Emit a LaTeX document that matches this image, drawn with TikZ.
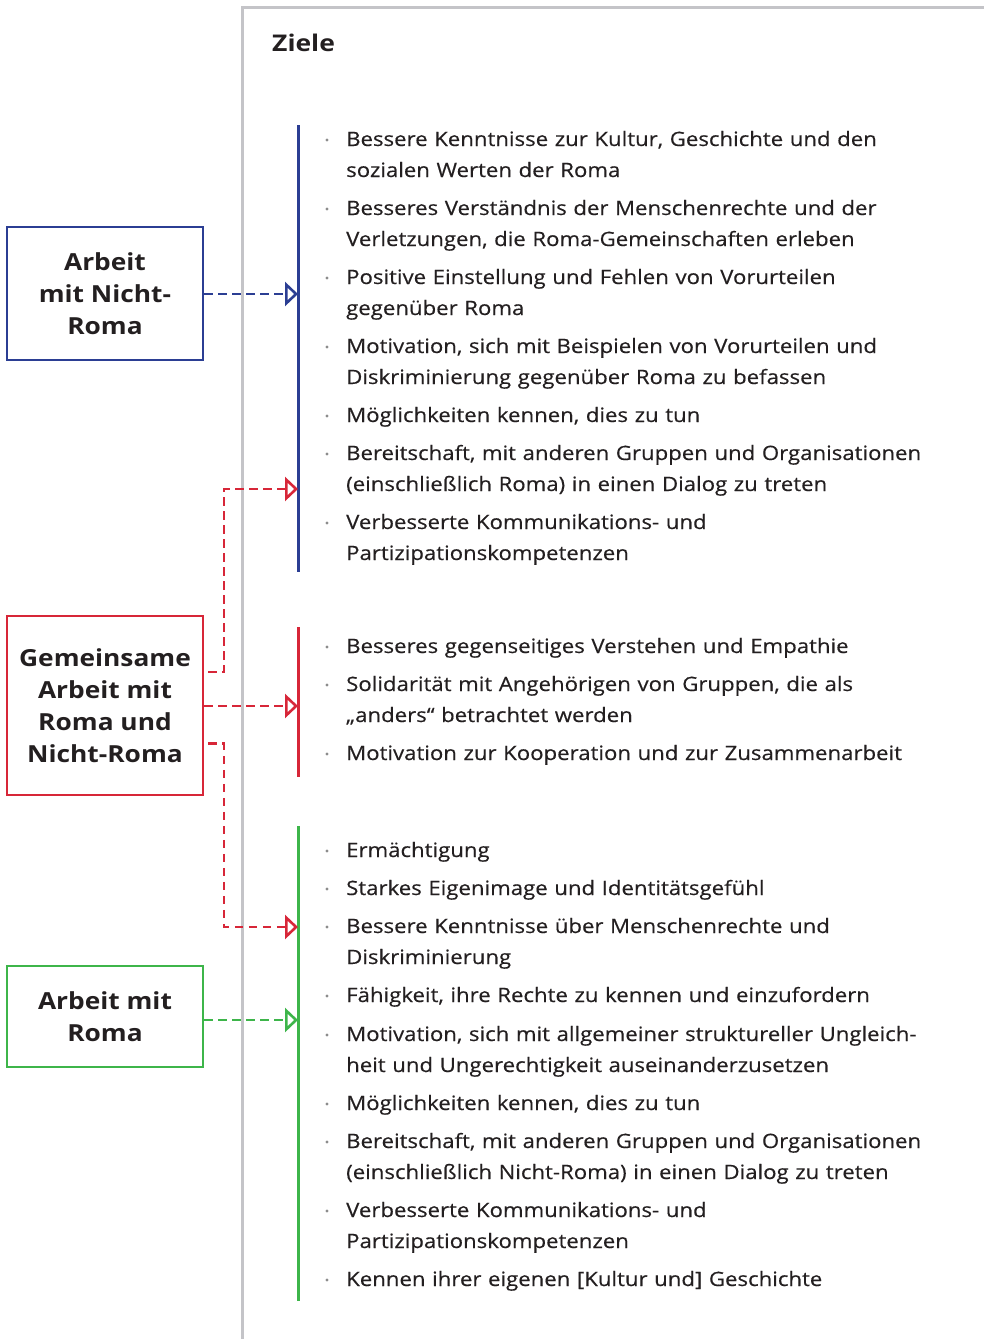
\documentclass[tikz,border=0pt]{standalone}
\usepackage{fontspec}
\setmainfont{Open Sans}[FakeStretch=1.12, FakeBold=0.4]
\newfontfamily\boxfont{Open Sans}[FakeStretch=1.12]
\newfontfamily\titlefont{Open Sans}[FakeStretch=1.15]
\usetikzlibrary{arrows.meta,calc}
\definecolor{cblue}{RGB}{43,62,147}
\definecolor{cred}{RGB}{215,38,56}
\definecolor{cgreen}{RGB}{61,181,74}
\definecolor{cframe}{RGB}{196,196,200}
\definecolor{cdot}{RGB}{140,140,140}
\definecolor{ctext}{RGB}{35,31,32}
\tikzset{
  box/.style={draw=#1, line width=2.8pt, minimum width=196pt, inner sep=0pt, align=center, text=ctext,
    font=\boxfont\bfseries\fontsize{23.5}{32}\selectfont},
  bar/.style={draw=#1, line width=3pt},
  conn/.style={draw=#1, line width=2.4pt, dash pattern=on 8.5pt off 5.5pt,
    -{Triangle[open, length=13pt, width=24pt, line width=2.6pt]}},
  dotn/.style={circle, fill=cdot, inner sep=0pt, minimum size=3.4pt},
  itemtxt/.style={anchor=base west, inner sep=0pt, align=left, text width=640pt, text=ctext,
    font=\fontsize{19.8}{31}\selectfont},
}
\newcommand\goal[3]{\node[dotn] (#1b) at (327,#2-6) {};\node[itemtxt] (#1) at (346,#2) {#3};}
\begin{document}
\begin{tikzpicture}[x=1pt,y=-1pt]
\useasboundingbox (0,0) rectangle (984,1339);
% frame
\draw[cframe, line width=3pt] (242,1339) -- (242,7) -- (984,7);
\node[anchor=base west, inner sep=0pt, text=ctext, font=\titlefont\bfseries\fontsize{23}{28}\selectfont] (title) at (272,51) {Ziele};
% boxes
\node[box=cblue, minimum height=133pt] (nr) at (105,293.5) {Arbeit\\mit Nicht-\\Roma};
\node[box=cred, minimum height=179pt] (gem) at (105,705.5) {Gemeinsame\\Arbeit mit\\Roma und\\Nicht-Roma};
\node[box=cgreen, minimum height=101pt] (ro) at (105,1016.5) {Arbeit mit\\Roma};
% bars
\coordinate (bt) at (298,125); \coordinate (bb) at (298,572);
\coordinate (rt) at (298,627); \coordinate (rb) at (298,777);
\coordinate (gt) at (298,826); \coordinate (gb) at (298,1301);
\draw[bar=cblue] (bt) -- (bb);
\draw[bar=cred] (rt) -- (rb);
\draw[bar=cgreen] (gt) -- (gb);
% arrow targets
\coordinate (tb) at (298,294);
\coordinate (tr1) at (298,489);
\coordinate (tr2) at (298,706);
\coordinate (tr3) at (298,927);
\coordinate (tg) at (298,1020);
% connectors
\draw[conn=cblue] (nr.east |- tb) -- (tb);
\draw[conn=cred] (gem.east |- tr2) -- (tr2);
\draw[conn=cred, dash phase=-4pt] ($(gem.east)+(0,-33.5)$) -| (224,489) -- (tr1);
\draw[conn=cred, dash phase=-4pt] ($(gem.east)+(0,38)$) -| (224,927) -- (tr3);
\draw[conn=cgreen] (ro.east |- tg) -- (tg);
% blue goals
\goal{a1}{146}{Bessere Kenntnisse zur Kultur, Geschichte und den\\sozialen Werten der Roma}
\goal{a2}{215}{Besseres Verständnis der Menschenrechte und der\\Verletzungen, die Roma-Gemeinschaften erleben}
\goal{a3}{284}{Positive Einstellung und Fehlen von Vorurteilen\\gegenüber Roma}
\goal{a4}{353}{Motivation, sich mit Beispielen von Vorurteilen und\\Diskriminierung gegenüber Roma zu befassen}
\goal{a5}{422}{Möglichkeiten kennen, dies zu tun}
\goal{a6}{460}{Bereitschaft, mit anderen Gruppen und Organisationen\\(einschließlich Roma) in einen Dialog zu treten}
\goal{a7}{529}{Verbesserte Kommunikations- und\\Partizipationskompetenzen}
% red goals
\goal{b1}{653}{Besseres gegenseitiges Verstehen und Empathie}
\goal{b2}{691}{Solidarität mit Angehörigen von Gruppen, die als\\„anders“ betrachtet werden}
\goal{b3}{760}{Motivation zur Kooperation und zur Zusammenarbeit}
% green goals
\goal{c1}{857}{Ermächtigung}
\goal{c2}{895}{Starkes Eigenimage und Identitätsgefühl}
\goal{c3}{933}{Bessere Kenntnisse über Menschenrechte und\\Diskriminierung}
\goal{c4}{1002}{Fähigkeit, ihre Rechte zu kennen und einzufordern}
\goal{c5}{1041}{Motivation, sich mit allgemeiner struktureller Ungleich-\\heit und Ungerechtigkeit auseinanderzusetzen}
\goal{c6}{1110}{Möglichkeiten kennen, dies zu tun}
\goal{c7}{1148}{Bereitschaft, mit anderen Gruppen und Organisationen\\(einschließlich Nicht-Roma) in einen Dialog zu treten}
\goal{c8}{1217}{Verbesserte Kommunikations- und\\Partizipationskompetenzen}
\goal{c9}{1286}{Kennen ihrer eigenen [Kultur und] Geschichte}
\end{tikzpicture}
\end{document}
